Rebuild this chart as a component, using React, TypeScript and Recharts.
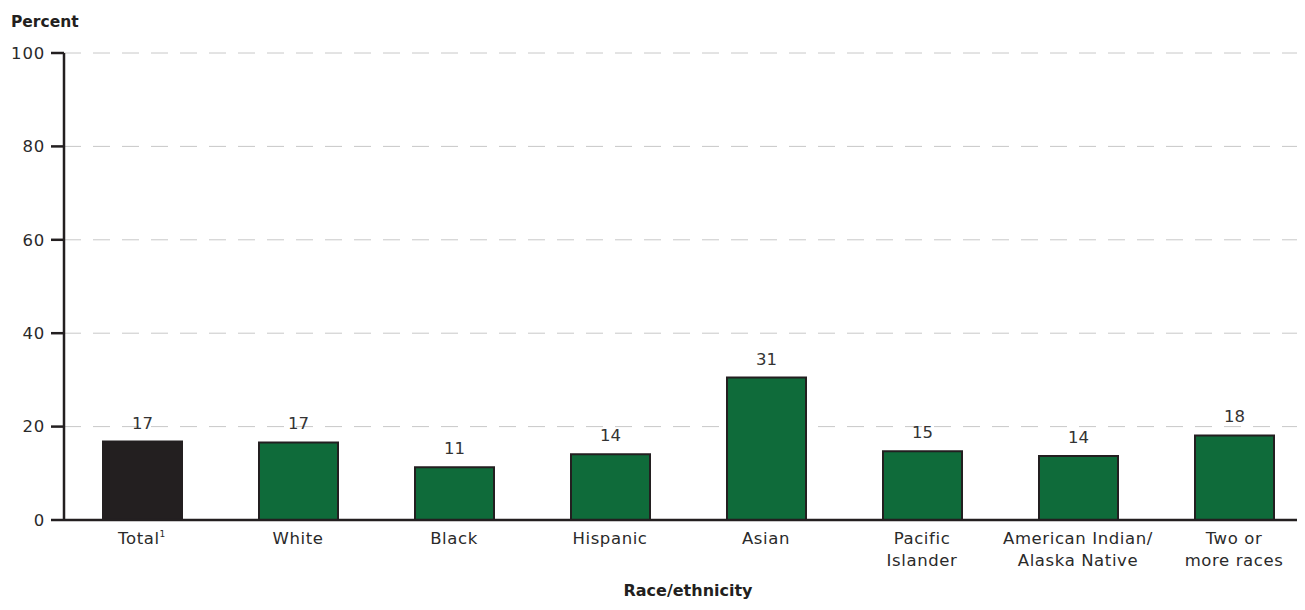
import { BarChart, Bar, XAxis, YAxis, CartesianGrid, LabelList, Cell } from "recharts";

const categories = ["Total", "White", "Black", "Hispanic", "Asian", "Pacific Islander", "American Indian/Alaska Native", "Two or more races"];
const tickLines = [["Total"], ["White"], ["Black"], ["Hispanic"], ["Asian"], ["Pacific", "Islander"], ["American Indian/", "Alaska Native"], ["Two or", "more races"]];
const percents = [16.8, 16.6, 11.3, 14.1, 30.5, 14.7, 13.7, 18.1];
const percentLabels = ["17", "17", "11", "14", "31", "15", "14", "18"];
const yTicks = [0, 20, 40, 60, 80, 100];

const data = categories.map((c, i) => ({
  name: c,
  value: percents[i],
  label: percentLabels[i],
}));

const FONT = "'DejaVu Sans', Verdana, sans-serif";

const XTick = (props: any) => {
  const { x, y, index } = props;
  const lines = tickLines[index] || [];
  return (
    <text x={x} y={y} textAnchor="middle" fill="#2a2a2a" fontSize={16.5} fontFamily={FONT} letterSpacing={0.6}>
      {lines.map((l: string, i: number) => (
        <tspan key={i} x={x} dy={i === 0 ? 15.5 : 22}>
          {l}
          {index === 0 && i === 0 ? (
            <tspan fontSize={9} dy={-7}>1</tspan>
          ) : null}
        </tspan>
      ))}
    </text>
  );
};

export default function App() {
  return (
    <div style={{ position: "relative", width: 1297, height: 602, overflow: "hidden", fontFamily: FONT }}>
      <div style={{ position: "absolute", left: 3, top: 5, fontSize: 15.5, fontWeight: "bold", color: "#231f20" }}>
        Percent
      </div>
      <BarChart
        width={1320}
        height={602}
        data={data}
        margin={{ top: 45, right: 16, left: 0, bottom: 60 }}
        barSize={79}
      >
        <CartesianGrid vertical={false} stroke="#c8c8c8" strokeDasharray="17 12" />
        <YAxis
          domain={[0, 100]}
          ticks={yTicks}
          width={56}
          tickSize={13}
          tickMargin={6}
          axisLine={{ stroke: "#231f20", strokeWidth: 2.5 }}
          tickLine={{ stroke: "#231f20", strokeWidth: 2.5 }}
          tick={{ fill: "#2a2a2a", fontSize: 16.5, fontFamily: FONT, letterSpacing: 0.8 }}
          interval={0}
        />
        <XAxis
          dataKey="name"
          tickLine={false}
          axisLine={{ stroke: "#231f20", strokeWidth: 2.5 }}
          tick={<XTick />}
          interval={0}
        />
        <Bar dataKey="value" stroke="#231f20" strokeWidth={2} isAnimationActive={false}>
          {data.map((d, i) => (
            <Cell key={d.name} fill={i === 0 ? "#231f20" : "#0f6b3a"} />
          ))}
          <LabelList
            dataKey="label"
            position="top"
            offset={13}
            fill="#333333"
            fontSize={16.5}
            fontFamily={FONT}
          />
        </Bar>
      </BarChart>
      <div style={{ position: "absolute", left: 0, width: 1360, top: 573, textAlign: "center", fontSize: 16, fontWeight: "bold", color: "#231f20" }}>
        Race/ethnicity
      </div>
    </div>
  );
}
